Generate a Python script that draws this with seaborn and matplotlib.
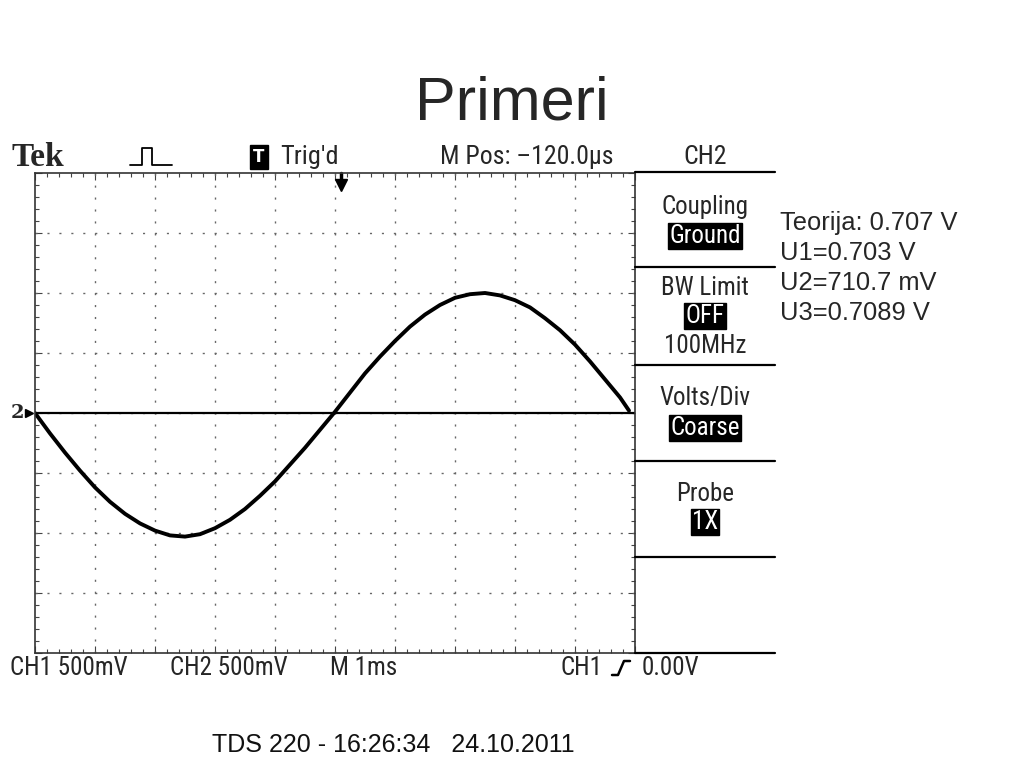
import numpy as np
import pandas as pd
import seaborn as sns
import matplotlib.pyplot as plt
from matplotlib.lines import Line2D

# CH1 trace: time in ms (1 ms/div), voltage in V (500 mV/div)
time_ms = [0.0, 0.25, 0.5, 0.75, 1.0, 1.25, 1.5, 1.75, 2.0, 2.25,
           2.5, 2.75, 3.0, 3.25, 3.5, 3.75, 4.0, 4.25, 4.5, 4.75,
           5.0, 5.25, 5.5, 5.75, 6.0, 6.25, 6.5, 6.75, 7.0, 7.25,
           7.5, 7.75, 8.0, 8.25, 8.5, 8.75, 9.0, 9.25, 9.5, 9.75, 9.9]
ch1_volts = [0.0, -0.17, -0.33, -0.48, -0.62, -0.74, -0.84, -0.92, -0.98, -1.02,
             -1.03, -1.01, -0.96, -0.89, -0.80, -0.69, -0.57, -0.43, -0.29, -0.14,
             0.01, 0.17, 0.33, 0.47, 0.60, 0.72, 0.82, 0.90, 0.96, 0.99,
             1.0, 0.98, 0.94, 0.88, 0.79, 0.69, 0.57, 0.43, 0.28, 0.13, 0.02]
ch2_ground = 0.0

top_labels = ["Trig'd", "M Pos: \u2013120.0\u00b5s", "CH2"]
bottom_labels = ["CH1 500mV", "CH2 500mV", "M 1ms", "CH1", "0.00V"]
menu_titles = ["Coupling", "BW Limit", "Volts/Div", "Probe"]
menu_values = ["Ground", "OFF", "Coarse", "1X"]
notes = ["Teorija: 0.707 V", "U1=0.703 V", "U2=710.7 mV", "U3=0.7089 V"]
caption = "TDS 220 - 16:26:34   24.10.2011"
title = "Primeri"

W, H = 1024, 768


def fx(px):
    return px / W


def fy(py):
    return 1 - py / H


sns.set_style("white")
plt.rcParams['font.family'] = ['Liberation Sans', 'DejaVu Sans']
# the scope's own lettering is a narrow pixel font
scope = dict(family=['Liberation Sans Narrow', 'Roboto Condensed', 'DejaVu Sans'],
             fontstretch='condensed')

fig = plt.figure(figsize=(10.24, 7.68), dpi=100)
fig.patch.set_facecolor('white')

# screen graticule: 10 x 8 divisions, 60 px each
ax = fig.add_axes([fx(35), fy(653), 600 / W, 480 / H])
ax.set_xlim(0, 10)
ax.set_ylim(-2, 2)
ax.set_facecolor('white')
for s in ax.spines.values():
    s.set_color('#333333')
    s.set_linewidth(1.2)
ax.set_xticks(np.arange(0, 11, 1))
ax.set_yticks(np.arange(-2, 2.01, 0.5))
ax.set_xticks(np.arange(0, 10.01, 0.2), minor=True)
ax.set_yticks(np.arange(-2, 2.01, 0.1), minor=True)
ax.tick_params(which='both', direction='in', top=True, right=True,
               bottom=True, left=True, labelbottom=False, labelleft=False,
               color='#444444', width=0.8)
ax.tick_params(which='major', length=5)
ax.tick_params(which='minor', length=3)
for xv in np.arange(1, 10, 1):
    ax.axvline(xv, color='#666666', lw=1.0, ls=(0, (1.5, 7.1)))
for yv in np.arange(-1.5, 2.0, 0.5):
    ax.axhline(yv, color='#666666', lw=1.0, ls=(0, (1.5, 7.1)))

ax.axhline(ch2_ground, color='black', lw=1.6)
df = pd.DataFrame({'t': time_ms, 'v': ch1_volts})
sns.lineplot(data=df, x='t', y='v', ax=ax, color='black', lw=2.8)
ax.set_xlabel('')
ax.set_ylabel('')

# trigger marker and channel ground marker
ax.plot([5.1], [1.9], marker='v', color='black', ms=9, clip_on=False)
ax.plot([5.1, 5.1], [1.9, 2.0], color='black', lw=2.5, clip_on=False)
fig.text(fx(11), fy(413), "2", fontsize=14, fontweight='bold',
         family='DejaVu Serif', va='center', ha='left')
ax.plot([-0.1], [0], marker='>', color='black', ms=6, clip_on=False)

# header row
fig.text(fx(11), fy(158), "Tek", fontsize=24, fontweight='bold',
         family=['Liberation Serif', 'DejaVu Serif'], va='center', ha='left')
pulse = [(130, 165), (142, 165), (142, 148), (152, 148), (152, 165), (172, 165)]
fig.add_artist(Line2D([fx(p[0]) for p in pulse], [fy(p[1]) for p in pulse],
                      color='black', lw=1.3))
fig.text(fx(259), fy(157), "T", fontsize=12, fontweight='bold', color='white',
         family='DejaVu Sans', va='center', ha='center',
         bbox=dict(boxstyle='square,pad=0.2', fc='black', ec='black'))
fig.text(fx(280), fy(157), top_labels[0], fontsize=19, va='center', ha='left', **scope)
fig.text(fx(440), fy(157), top_labels[1], fontsize=18.5, va='center', ha='left', **scope)
fig.text(fx(705), fy(157), top_labels[2], fontsize=18.5, va='center', ha='center', **scope)

# side menu
for py in [172, 267, 365, 461, 557, 653]:
    fig.add_artist(Line2D([fx(635), fx(775)], [fy(py), fy(py)],
                          color='black', lw=1.6))
title_y = [207, 288, 398, 494]
value_y = [236, 316, 428, 522]
for name, val, ty, vy in zip(menu_titles, menu_values, title_y, value_y):
    fig.text(fx(705), fy(ty), name, fontsize=18, va='center', ha='center', **scope)
    fig.text(fx(705), fy(vy), val, fontsize=18, color='white',
             va='center', ha='center',
             bbox=dict(boxstyle='square,pad=0.05', fc='black', ec='black'), **scope)
fig.text(fx(705), fy(346), "100MHz", fontsize=18, va='center', ha='center', **scope)

# footer row
bottom_x = [10, 170, 330, 560, 642]
for lab, bx in zip(bottom_labels, bottom_x):
    fig.text(fx(bx), fy(668), lab, fontsize=18, va='center', ha='left', **scope)
edge = [(612, 675), (618, 675), (624, 661), (630, 661)]
fig.add_artist(Line2D([fx(p[0]) for p in edge], [fy(p[1]) for p in edge],
                      color='black', lw=1.8))

# slide texts
fig.text(0.5, fy(120), title, fontsize=44, ha='center', va='baseline')
for i, note in enumerate(notes):
    fig.text(fx(780), fy(230 + 30 * i), note, fontsize=18.4, ha='left',
             va='baseline')
fig.text(fx(212), fy(752), caption, fontsize=18, ha='left', va='baseline',
         color='#111111')

fig.savefig('out.png', dpi=100)
